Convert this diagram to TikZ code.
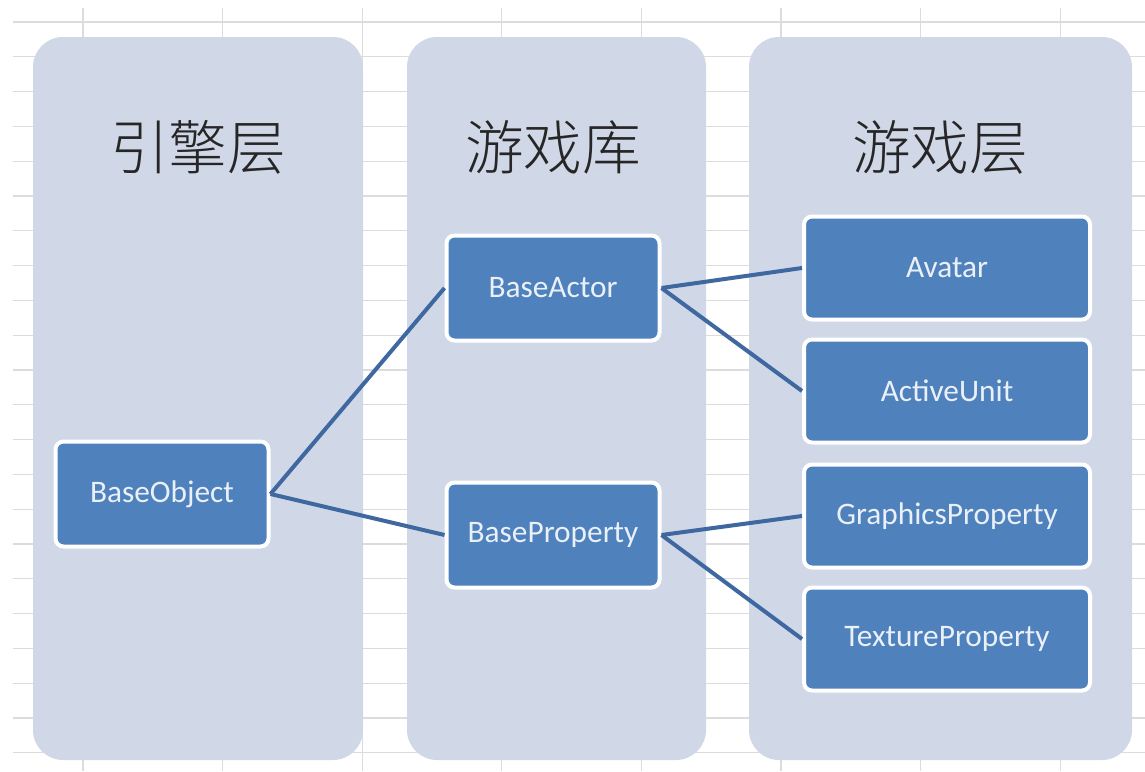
\documentclass[tikz,border=0pt]{standalone}
\usepackage{fontspec}
\setsansfont{Carlito}
\newfontfamily\cjk{Noto Sans CJK SC Light}
\definecolor{gridgray}{HTML}{DCDCDC}
\definecolor{colfill}{HTML}{D0D8E8}
\definecolor{boxfill}{HTML}{4F81BD}
\definecolor{linkblue}{HTML}{3F67A0}
\definecolor{boxtext}{HTML}{EAF0F8}
\begin{document}
\begin{tikzpicture}[x=0.75pt,y=-0.75pt,
  column/.style={fill=colfill, rounded corners=22.5pt},
  title/.style={font=\cjk\fontsize{44}{50}\selectfont, text=black!85},
  classbox/.style={rectangle, rounded corners=6pt, fill=boxfill, draw=white,
    line width=3pt, minimum width=213*0.75pt, minimum height=105*0.75pt,
    inner sep=0pt, font=\sffamily\fontsize{23.5}{28}\selectfont, text=boxtext},
  widebox/.style={classbox, minimum width=286*0.75pt, minimum height=103*0.75pt},
  link/.style={draw=linkblue, line width=3pt}]
\useasboundingbox (0,0) rectangle (1145,771);
\fill[white] (0,0) rectangle (1145,771);
% spreadsheet grid behind the diagram
\foreach \k in {0,...,21}
  \draw[gridgray, line width=0.9pt] (13,{22+34.8*\k}) -- (1145,{22+34.8*\k});
\foreach \k in {0,...,7}
  \draw[gridgray, line width=0.9pt] ({83+139.6*\k},8) -- ({83+139.6*\k},771);
% three layer columns
\fill[column] (33,37) rectangle (363,760);
\fill[column] (407,37) rectangle (706,760);
\fill[column] (749,37) rectangle (1132,760);
% column titles
\node[title] (t1) at (198,147) {引擎层};
\node[title] (t2) at (553,147) {游戏库};
\node[title] (t3) at (940,147) {游戏层};
% class boxes
\node[classbox] (bo) at (162,494) {BaseObject};
\node[classbox] (ba) at (553,288) {BaseActor};
\node[classbox] (bp) at (553,535) {BaseProperty};
\node[widebox] (av) at (947,268) {Avatar};
\node[widebox] (au) at (947,391) {ActiveUnit};
\node[widebox] (gp) at (947,516) {GraphicsProperty};
\node[widebox] (tp) at (947,639) {TextureProperty};
% inheritance links
\draw[link] (bo.east) -- (ba.west);
\draw[link] (bo.east) -- (bp.west);
\draw[link] (ba.east) -- (av.west);
\draw[link] (ba.east) -- (au.west);
\draw[link] (bp.east) -- (gp.west);
\draw[link] (bp.east) -- (tp.west);
\end{tikzpicture}
\end{document}
